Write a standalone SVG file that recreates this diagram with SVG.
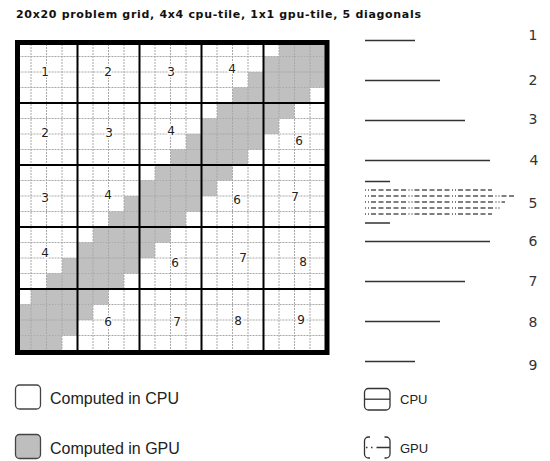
<svg xmlns="http://www.w3.org/2000/svg" width="550" height="461" viewBox="0 0 550 461">
<style>
.title{font-family:"DejaVu Sans",sans-serif;font-weight:bold;font-size:11px;fill:#111}
.lbl{font-family:"DejaVu Sans",sans-serif;font-size:12px;fill:#222;text-anchor:middle;stroke:#fff;stroke-width:3px;paint-order:stroke;stroke-linejoin:round}
.num{font-family:"DejaVu Sans",sans-serif;font-size:14px;fill:#333;text-anchor:middle}
.leg{font-family:"Liberation Sans",Arial,sans-serif;font-size:16px;fill:#222}
.leg2{font-family:"Liberation Sans",Arial,sans-serif;font-size:13px;fill:#222}
.gpu{fill:#c0c0c0}
.thin{stroke:#a8a8a8;stroke-width:1;stroke-dasharray:2 1;fill:none}
.tile{stroke:#000;stroke-width:2;fill:none}
.bar{stroke:#333;stroke-width:1.3;fill:none}
.dash{stroke:#555;stroke-width:1.4;fill:none;stroke-dasharray:1 2 1 2 5 2.5 5 2.5 5 2.5 5 2.5 5 2.5}
</style>
<text class="title" x="16" y="18" textLength="405" lengthAdjust="spacing">20x20 problem grid, 4x4 cpu-tile, 1x1 gpu-tile, 5 diagonals</text>
<g id="grid">
<rect x="15.5" y="41" width="310" height="310" fill="#fff"/>
<g id="gpu-cells" class="gpu">
<rect x="279" y="41" width="46.5" height="15.5"/>
<rect x="263.5" y="56.5" width="62" height="15.5"/>
<rect x="248" y="72" width="77.5" height="15.5"/>
<rect x="232.5" y="87.5" width="77.5" height="15.5"/>
<rect x="217" y="103" width="77.5" height="15.5"/>
<rect x="201.5" y="118.5" width="77.5" height="15.5"/>
<rect x="186" y="134" width="77.5" height="15.5"/>
<rect x="170.5" y="149.5" width="77.5" height="15.5"/>
<rect x="155" y="165" width="77.5" height="15.5"/>
<rect x="139.5" y="180.5" width="77.5" height="15.5"/>
<rect x="124" y="196" width="77.5" height="15.5"/>
<rect x="108.5" y="211.5" width="77.5" height="15.5"/>
<rect x="93" y="227" width="77.5" height="15.5"/>
<rect x="77.5" y="242.5" width="77.5" height="15.5"/>
<rect x="62" y="258" width="77.5" height="15.5"/>
<rect x="46.5" y="273.5" width="77.5" height="15.5"/>
<rect x="31" y="289" width="77.5" height="15.5"/>
<rect x="15.5" y="304.5" width="77.5" height="15.5"/>
<rect x="15.5" y="320" width="62" height="15.5"/>
<rect x="15.5" y="335.5" width="46.5" height="15.5"/>
</g>
<path class="thin" d="M31 41V351M46.5 41V351M62 41V351M93 41V351M108.5 41V351M124 41V351M155 41V351M170.5 41V351M186 41V351M217 41V351M232.5 41V351M248 41V351M279 41V351M294.5 41V351M310 41V351M15.5 56.5H325.5M15.5 72H325.5M15.5 87.5H325.5M15.5 118.5H325.5M15.5 134H325.5M15.5 149.5H325.5M15.5 180.5H325.5M15.5 196H325.5M15.5 211.5H325.5M15.5 242.5H325.5M15.5 258H325.5M15.5 273.5H325.5M15.5 304.5H325.5M15.5 320H325.5M15.5 335.5H325.5"/>
<path class="tile" d="M77.5 41V351M139.5 41V351M201.5 41V351M263.5 41V351M15.5 103H325.5M15.5 165H325.5M15.5 227H325.5M15.5 289H325.5"/>
<rect x="17.5" y="42.5" width="309.5" height="310" fill="none" stroke="#000" stroke-width="5"/>
</g>
<g id="tile-labels">
<text class="lbl" x="45" y="76.3">1</text>
<text class="lbl" x="108" y="76.3">2</text>
<text class="lbl" x="171" y="76.3">3</text>
<text class="lbl" x="232" y="73.3">4</text>
<text class="lbl" x="45" y="137.3">2</text>
<text class="lbl" x="109" y="137.3">3</text>
<text class="lbl" x="171" y="135.3">4</text>
<text class="lbl" x="299" y="145.3">6</text>
<text class="lbl" x="45" y="202.3">3</text>
<text class="lbl" x="108" y="199.3">4</text>
<text class="lbl" x="237" y="204.3">6</text>
<text class="lbl" x="295" y="201.3">7</text>
<text class="lbl" x="45" y="257.3">4</text>
<text class="lbl" x="175" y="267.3">6</text>
<text class="lbl" x="243" y="262.3">7</text>
<text class="lbl" x="303" y="266.3">8</text>
<text class="lbl" x="108" y="326.3">6</text>
<text class="lbl" x="177" y="326.3">7</text>
<text class="lbl" x="238" y="325.3">8</text>
<text class="lbl" x="301" y="324.3">9</text>
</g>
<g id="diagonal-lines">
<path class="bar" d="M365 40.5H415M365 80.5H440M365 120.5H465M365 160.5H490M365 181.5H390M365 223H390M365 241.5H490M365 281.5H465M365 321.5H440M365 361.5H415"/>
<path class="dash" d="M365 190H492M365 196H515M365 202H505M365 208H500M365 214H492"/>
<text class="num" x="533" y="40">1</text>
<text class="num" x="533" y="85">2</text>
<text class="num" x="533" y="124">3</text>
<text class="num" x="534" y="165">4</text>
<text class="num" x="533" y="208">5</text>
<text class="num" x="533" y="246">6</text>
<text class="num" x="533" y="286">7</text>
<text class="num" x="533" y="327">8</text>
<text class="num" x="533" y="370">9</text>
</g>
<g id="legend-cpu">
<rect x="15.5" y="385" width="25" height="24" rx="4" fill="#fff" stroke="#444" stroke-width="1.3"/>
<text class="leg" x="50" y="404">Computed in CPU</text>
</g>
<g id="legend-gpu">
<rect x="15.5" y="434.5" width="25" height="24" rx="4" fill="#bebebe" stroke="#444" stroke-width="1.3"/>
<text class="leg" x="50" y="453.5">Computed in GPU</text>
</g>
<g id="legend-cpu-line">
<rect x="364.5" y="388.5" width="25.5" height="21.5" rx="4" fill="none" stroke="#333" stroke-width="1.3"/>
<path d="M364.5 399.2H390" stroke="#333" stroke-width="1.3"/>
<text class="leg2" x="400" y="403.5">CPU</text>
</g>
<g id="legend-gpu-line">
<path d="M370 437H368.5A4 4 0 0 0 364.5 441V454A4 4 0 0 0 368.5 458H370M384.5 437H386A4 4 0 0 1 390 441V454A4 4 0 0 1 386 458H384.5" fill="none" stroke="#333" stroke-width="1.3"/>
<path d="M366 447.5H390" stroke="#333" stroke-width="1.3" stroke-dasharray="1.5 3.5 1.5 4 20"/>
<text class="leg2" x="400" y="453">GPU</text>
</g>
</svg>
